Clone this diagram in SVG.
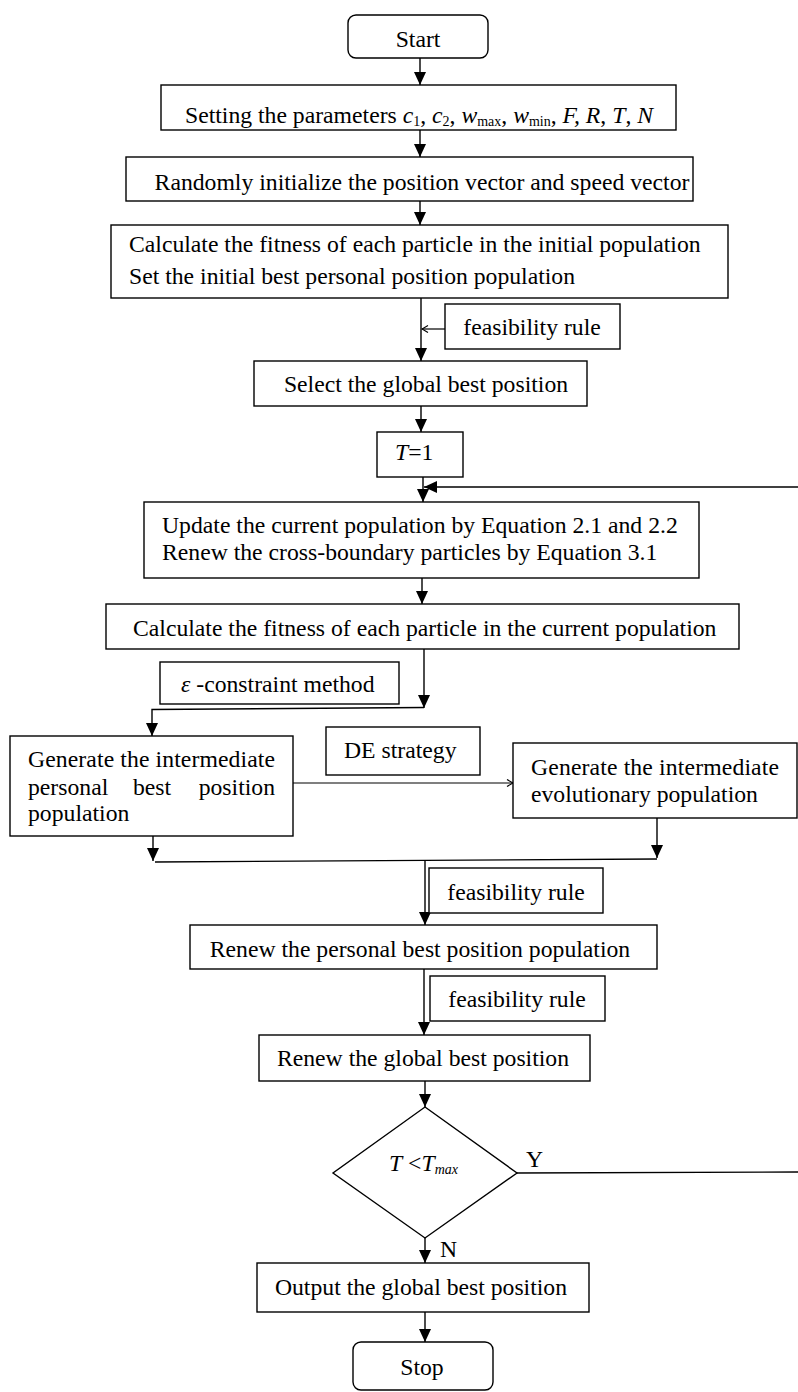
<svg xmlns="http://www.w3.org/2000/svg" width="798" height="1392" viewBox="0 0 798 1392">
<style>
.box{fill:#fff;stroke:#000;stroke-width:1.4}
.ln{fill:none;stroke:#000;stroke-width:1.4}
.arr{fill:none;stroke:#000;stroke-width:1.4;marker-end:url(#ah)}
.oarr{fill:none;stroke:#000;stroke-width:1.2;marker-end:url(#oh)}
text{font-family:"Liberation Serif","Times New Roman",serif;font-size:23.7px;fill:#000}
.it{font-style:italic}
.sub{font-size:14px}
.mid{text-anchor:middle}
</style>
<defs>
<marker id="ah" markerUnits="userSpaceOnUse" markerWidth="14" markerHeight="13" refX="13" refY="6" orient="auto"><path d="M0,0 L13,6 L0,12 z" fill="#000"/></marker>
<marker id="oh" markerUnits="userSpaceOnUse" markerWidth="8" markerHeight="9" refX="7" refY="4" orient="auto"><path d="M1,0.5 L7,4 L1,7.5" fill="none" stroke="#000" stroke-width="1.2"/></marker>
</defs>
<rect width="798" height="1392" fill="#fff"/>

<g id="connectors">
<line class="arr" x1="420" y1="58" x2="420" y2="85"/>
<line class="arr" x1="420" y1="130" x2="420" y2="157"/>
<line class="arr" x1="420" y1="201" x2="420" y2="225"/>
<line class="arr" x1="421" y1="298" x2="421" y2="361"/>
<line class="oarr" x1="445" y1="329" x2="422" y2="329"/>
<line class="arr" x1="421" y1="406" x2="421" y2="432"/>
<line class="arr" x1="423" y1="477" x2="423" y2="502"/>
<line class="arr" x1="798" y1="487" x2="424" y2="487"/>
<line class="arr" x1="422" y1="578" x2="422" y2="604"/>
<line class="arr" x1="424" y1="649" x2="424" y2="708"/>
<polyline class="arr" points="424,707.5 152,709.5 152,736"/>
<line class="oarr" x1="293" y1="783" x2="513" y2="783"/>
<line class="arr" x1="153" y1="836" x2="153" y2="861"/>
<line class="arr" x1="657" y1="818" x2="657" y2="858"/>
<line class="ln" x1="155" y1="862" x2="657" y2="859"/>
<line class="arr" x1="425" y1="861" x2="425" y2="925"/>
<line class="arr" x1="424" y1="969" x2="424" y2="1035"/>
<line class="arr" x1="425" y1="1081" x2="425" y2="1107"/>
<line class="ln" x1="517" y1="1173" x2="798" y2="1172"/>
<line class="arr" x1="425" y1="1238" x2="425" y2="1263"/>
<line class="arr" x1="425" y1="1312" x2="425" y2="1342"/>
</g>

<g id="start">
<rect class="box" x="348" y="15" width="140" height="43" rx="8"/>
<text class="mid" x="418" y="47">Start</text>
</g>

<g id="setting">
<rect class="box" x="161" y="85" width="515" height="45"/>
<text class="mid" x="419" y="123">Setting the parameters <tspan class="it">c</tspan><tspan class="sub" dy="3">1</tspan><tspan dy="-3">, </tspan><tspan class="it">c</tspan><tspan class="sub" dy="3">2</tspan><tspan dy="-3">, </tspan><tspan class="it">w</tspan><tspan class="sub" dy="3">max</tspan><tspan dy="-3">, </tspan><tspan class="it">w</tspan><tspan class="sub" dy="3">min</tspan><tspan dy="-3">, </tspan><tspan class="it">F, R</tspan>, <tspan class="it">T</tspan>, <tspan class="it">N</tspan></text>
</g>

<g id="init">
<rect class="box" x="126" y="157" width="567" height="44"/>
<text class="mid" x="422" y="190">Randomly initialize the position vector and speed vector</text>
</g>

<g id="calc-init">
<rect class="box" x="111" y="225" width="617" height="73"/>
<text x="129" y="252">Calculate the fitness of each particle in the initial population</text>
<text x="129" y="284">Set the initial best personal position population</text>
</g>

<g id="feas1">
<rect class="box" x="445" y="304" width="175" height="45"/>
<text class="mid" x="532" y="335">feasibility rule</text>
</g>

<g id="select">
<rect class="box" x="254" y="361" width="333" height="45"/>
<text class="mid" x="426" y="392">Select the global best position</text>
</g>

<g id="t1">
<rect class="box" x="377" y="432" width="86" height="45"/>
<text x="395" y="460"><tspan class="it">T</tspan>=1</text>
</g>

<g id="update">
<rect class="box" x="144" y="502" width="555" height="76"/>
<text x="162" y="533">Update the current population by Equation 2.1 and 2.2</text>
<text x="162" y="560">Renew the cross-boundary particles by Equation 3.1</text>
</g>

<g id="calc-cur">
<rect class="box" x="106" y="604" width="633" height="45"/>
<text x="133" y="636">Calculate the fitness of each particle in the current population</text>
</g>

<g id="eps">
<rect class="box" x="160" y="662" width="239" height="42"/>
<text x="181" y="692"><tspan class="it">ε</tspan> -constraint method</text>
</g>

<g id="gen-pbest">
<rect class="box" x="10" y="736" width="283" height="100"/>
<text x="28" y="767" textLength="247" lengthAdjust="spacing">Generate the intermediate</text>
<text x="28" y="795">personal</text>
<text x="133" y="795">best</text>
<text x="275" y="795" text-anchor="end">position</text>
<text x="28" y="821">population</text>
</g>

<g id="de">
<rect class="box" x="326" y="727" width="154" height="48"/>
<text x="344" y="758">DE strategy</text>
</g>

<g id="gen-evo">
<rect class="box" x="513" y="743" width="284" height="75"/>
<text x="531" y="775" textLength="248" lengthAdjust="spacing">Generate the intermediate</text>
<text x="531" y="802">evolutionary population</text>
</g>

<g id="feas2">
<rect class="box" x="429" y="868" width="174" height="45"/>
<text class="mid" x="516" y="900">feasibility rule</text>
</g>

<g id="renew-pbest">
<rect class="box" x="190" y="925" width="467" height="44"/>
<text class="mid" x="420" y="957">Renew the personal best position population</text>
</g>

<g id="feas3">
<rect class="box" x="430" y="976" width="175" height="45"/>
<text class="mid" x="517" y="1007">feasibility rule</text>
</g>

<g id="renew-gbest">
<rect class="box" x="259" y="1035" width="331" height="46"/>
<text class="mid" x="423" y="1066">Renew the global best position</text>
</g>

<g id="decision">
<polygon class="box" points="425,1107 517,1173 425,1238 333,1173"/>
<text x="389" y="1171"><tspan class="it">T</tspan> &lt;<tspan class="it">T</tspan><tspan class="it sub" dy="3">max</tspan></text>
<text x="526" y="1167">Y</text>
<text x="440" y="1257">N</text>
</g>

<g id="output">
<rect class="box" x="257" y="1263" width="332" height="49"/>
<text class="mid" x="421" y="1295">Output the global best position</text>
</g>

<g id="stop">
<rect class="box" x="353" y="1342" width="140" height="48" rx="8"/>
<text class="mid" x="422" y="1375">Stop</text>
</g>
</svg>
